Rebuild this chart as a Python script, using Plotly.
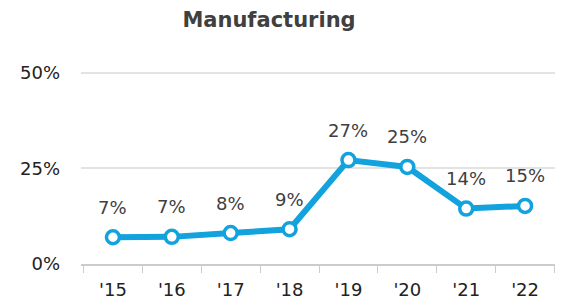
import plotly.graph_objects as go

years = ["'15", "'16", "'17", "'18", "'19", "'20", "'21", "'22"]
values = [0.07, 0.071, 0.081, 0.091, 0.272, 0.254, 0.145, 0.152]
labels = ["7%", "7%", "8%", "9%", "27%", "25%", "14%", "15%"]
y_ticks = [0, 0.25, 0.5]
y_tick_labels = ["0%", "25%", "50%"]

BLUE = "#12A2DE"
FONT = "DejaVu Sans"

fig = go.Figure()
fig.add_trace(go.Scatter(
    x=years, y=values, mode="lines+markers",
    line=dict(color=BLUE, width=6),
    marker=dict(size=13, color="white", line=dict(color=BLUE, width=3.5)),
    cliponaxis=False,
    hoverinfo="skip",
))
for xv, yv, t in zip(years, values, labels):
    fig.add_annotation(x=xv, y=yv, text=t, showarrow=False, yshift=30,
                       font=dict(family=FONT, size=18, color="#404040"))

fig.update_layout(
    width=555, height=293,
    margin=dict(l=73, r=6, t=63, b=37),
    paper_bgcolor="white", plot_bgcolor="white",
    showlegend=False,
    title=dict(text="<b>Manufacturing</b>", x=261/555, xanchor="center", xref="container",
               y=1 - 12/293, yanchor="middle",
               font=dict(family=FONT, size=21, color="#404040")),
)
fig.update_xaxes(
    type="category", tickson="boundaries", ticks="outside", ticklen=7, tickcolor="#C9CDCD",
    showline=True, linecolor="#C9CDCD", linewidth=2, showgrid=False,
    ticklabelstandoff=8, automargin=False,
    tickfont=dict(family=FONT, size=18, color="#222222"),
)
fig.update_yaxes(
    range=[0, 0.505], tickvals=y_ticks, ticktext=y_tick_labels,
    showgrid=True, gridcolor="#E3E3E3", gridwidth=2, zeroline=False, showline=False,
    ticklabelstandoff=20, automargin=False,
    tickfont=dict(family=FONT, size=18, color="#222222"),
)

fig.write_html("out.html")
